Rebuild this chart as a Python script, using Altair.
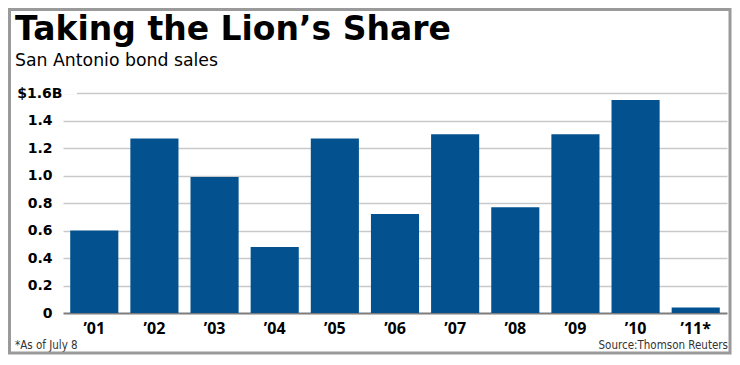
import altair as alt
import pandas as pd

# ---- data ----
years = ["’01", "’02", "’03", "’04", "’05", "’06", "’07", "’08", "’09", "’10", "’11*"]
sales = [0.60, 1.27, 0.99, 0.48, 1.27, 0.72, 1.30, 0.77, 1.30, 1.55, 0.04]
y_tick_values = [0, 0.2, 0.4, 0.6, 0.8, 1.0, 1.2, 1.4, 1.6]
y_tick_labels = ["0", "0.2", "0.4", "0.6", "0.8", "1.0", "1.2", "1.4", "$1.6B"]
title_text = "Taking the Lion’s Share"
subtitle_text = "San Antonio bond sales"
note_text = "*As of July 8"
source_text = "Source:Thomson Reuters"

df = pd.DataFrame({"year": years, "sales": sales})

W, H = 664, 220
BAR = "#03528f"
Y_MAX = y_tick_values[-1]

label_expr = "[" + ",".join("'" + l + "'" for l in y_tick_labels) + "][round(datum.value / 0.2)]"

bars = alt.Chart(df).mark_bar(color=BAR).encode(
    x=alt.X(
        "year:N",
        sort=years,
        scale=alt.Scale(paddingInner=0.2, paddingOuter=0.12),
        axis=alt.Axis(
            title=None, domain=False, ticks=False, grid=False, labelAngle=0,
            labelFont="Open Sans", labelFontWeight="bold", labelFontSize=16,
            labelColor="black", labelPadding=7,
        ),
    ),
    y=alt.Y(
        "sales:Q",
        scale=alt.Scale(domain=[0, Y_MAX], nice=False, zero=True),
        axis=alt.Axis(
            title=None, domain=False, ticks=False, values=y_tick_values,
            labelExpr=label_expr, labelOverlap=False,
            labelFont="DejaVu Sans", labelFontWeight="bold", labelFontSize=14,
            labelColor="black", labelAlign="right",
            labelPadding={"condition": {"test": "datum.value >= 1.59", "value": 1}, "value": 11},
            grid=True,
            gridColor={"condition": {"test": "datum.value == 0", "value": "#7d7d7d"}, "value": "#c9c9c9"},
            gridWidth={"condition": {"test": "datum.value == 0", "value": 2}, "value": 1.5},
        ),
    ),
)

# small gap at the start of the top gridline, next to the "$1.6B" label (top edge of plot)
gap = alt.Chart(pd.DataFrame({"a": [0]})).mark_rule(color="white", strokeWidth=3).encode(
    x=alt.value(0), x2=alt.value(14), y=alt.value(0)
)

def text_layer(txt, x, y, size, font, weight="normal", align="left", color="black"):
    return alt.Chart(pd.DataFrame({"t": [txt]})).mark_text(
        align=align, baseline="alphabetic", font=font, fontSize=size,
        fontWeight=weight, color=color,
    ).encode(text="t:N", x=alt.value(x), y=alt.value(y))

NARROW = "DejaVu Sans Condensed, sans-serif"
title = text_layer(title_text, -48, -53, 33, "DejaVu Sans", weight="bold")
subtitle = text_layer(subtitle_text, -48, -27, 17.3, "DejaVu Sans")
note = text_layer(note_text, -48, 256, 11.5, NARROW, color="#333333")
source = text_layer(source_text, 665, 256, 11.5, NARROW, align="right", color="#333333")

border = alt.Chart(pd.DataFrame({"a": [0]})).mark_rect(
    fillOpacity=0, stroke="#9a9a9a", strokeWidth=3
).encode(x=alt.value(-53.5), x2=alt.value(667), y=alt.value(-83.5), y2=alt.value(260))

chart = alt.layer(bars, gap, title, subtitle, note, source, border).properties(
    width=W, height=H,
    autosize=alt.AutoSizeParams(type="none"),
    padding={"left": 55, "top": 85, "right": 5, "bottom": 42},
    background="white",
).configure_view(stroke=None)

chart.save("out.html", embed_options={"renderer": "svg", "actions": False})
